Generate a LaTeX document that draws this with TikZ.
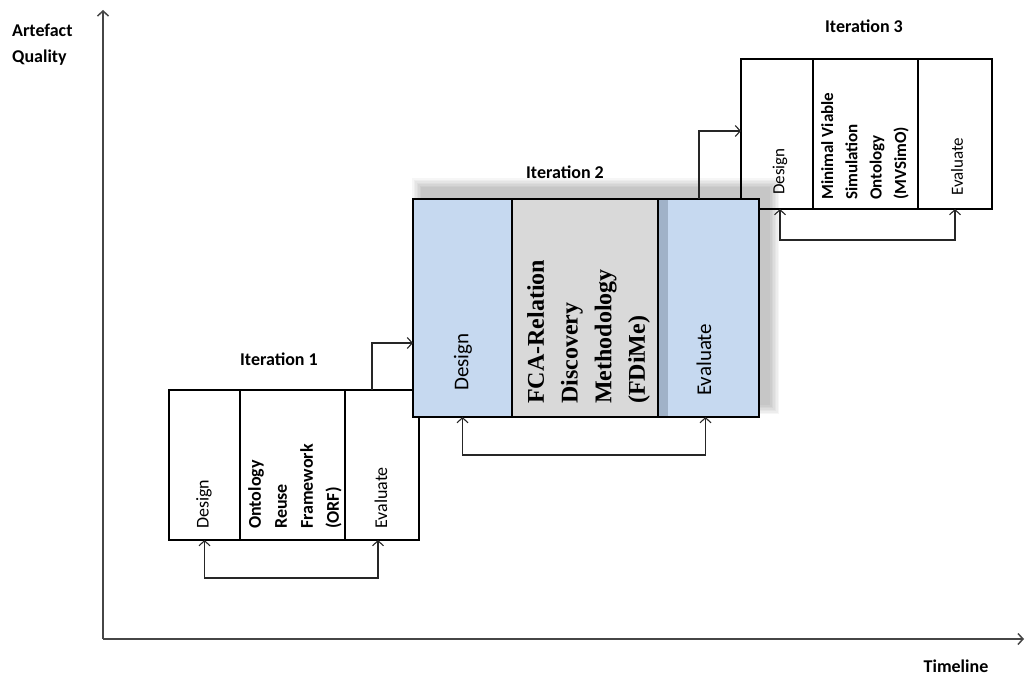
\documentclass[tikz,border=0pt]{standalone}
\usepackage{fontspec}
\setmainfont{Carlito}
\newfontfamily\fcafont{Liberation Serif}
\usetikzlibrary{arrows.meta,calc}
\definecolor{cellblue}{RGB}{198,217,240}
\definecolor{cellgray}{RGB}{217,217,217}
\definecolor{stripc}{RGB}{160,178,200}
\definecolor{axisc}{RGB}{70,70,70}
\begin{document}
\begin{tikzpicture}[x=1pt,y=-1pt,
  >={Straight Barb[length=5pt,width=11pt]},
  cell/.style={draw=black,line width=2.4pt,anchor=north west,inner sep=0pt,outer sep=0pt},
  lbl/.style={rotate=90,anchor=west,inner sep=0pt},
  mid/.style={rotate=90,anchor=north west,inner sep=0pt,align=left},
  conn/.style={line width=1.1pt,draw=black!85},
  axis/.style={line width=1.5pt,draw=axisc},
  title/.style={anchor=base,inner sep=0pt,font=\bfseries\fontsize{18}{22}\selectfont}]
\useasboundingbox (0,0) rectangle (1025,677);

% axes
\coordinate (o) at (103,639);
\coordinate (ytop) at (103,10);
\coordinate (xend) at (1024,639);
\draw[axis,->] (o) -- (ytop);
\draw[axis,->] (o) -- (xend);
\node[anchor=base west,inner sep=0pt,font=\bfseries\fontsize{18}{22}\selectfont] (yl1) at (12,37) {Artefact};
\node[anchor=base west,inner sep=0pt,font=\bfseries\fontsize{18}{22}\selectfont] (yl2) at (12,63) {Quality};
\node[title] (xl) at (956,672) {Timeline};

% iteration 3
\node[cell,minimum width=72pt,minimum height=150pt] (d3) at (741,59) {};
\node[cell,minimum width=105pt,minimum height=150pt] (m3) at (813,59) {};
\node[cell,minimum width=74pt,minimum height=150pt] (e3) at (918,59) {};
\node[title] (t3) at (864,33) {Iteration 3};
\node[lbl,font=\fontsize{17}{20}\selectfont] (ld3) at (780,195) {Design};
\node[mid,font=\bfseries\fontsize{17}{24.3}\selectfont] (lm3) at (821,200) {Minimal Viable\\Simulation\\Ontology\\(MVSimO)};
\node[lbl,font=\fontsize{17}{20}\selectfont] (le3) at (957,196) {Evaluate};

% iteration 1
\node[cell,minimum width=71pt,minimum height=150pt] (d1) at (169,390) {};
\node[cell,minimum width=105pt,minimum height=150pt] (m1) at (240,390) {};
\node[cell,minimum width=74pt,minimum height=150pt] (e1) at (345,390) {};
\node[title] (t1) at (279,365) {Iteration 1};
\node[lbl,font=\fontsize{18}{22}\selectfont] (ld1) at (204,529) {Design};
\node[mid,font=\bfseries\fontsize{18}{26}\selectfont] (lm1) at (248,529) {Ontology\\Reuse\\Framework\\(ORF)};
\node[lbl,font=\fontsize{18}{22}\selectfont] (le1) at (381,529) {Evaluate};

% soft shadow of iteration 2
\foreach \k in {0,...,6} {
  \fill[black,opacity=0.035] ({412+1.5*\k},{178+1.5*\k}) rectangle ({779-1.5*\k},{414-1.5*\k});
}

% iteration 2
\node[cell,fill=cellblue,minimum width=99pt,minimum height=218pt] (d2) at (413,199) {};
\node[cell,fill=cellgray,minimum width=146pt,minimum height=218pt] (m2) at (512,199) {};
\node[cell,fill=cellblue,minimum width=101pt,minimum height=218pt] (e2) at (658,199) {};
\fill[stripc] (659.2,200.2) rectangle (667.5,415.8);
\draw[line width=2.4pt] (e2.north west) -- (e2.south west);
\node[title] (t2) at (565,178) {Iteration 2};
\node[lbl,font=\fontsize{21}{25}\selectfont] (ld2) at (463,391) {Design};
\node[mid,font=\fcafont\bfseries\fontsize{24}{33.7}\selectfont] (lm2) at (527,404) {FCA-Relation\\Discovery\\Methodology\\(FDiMe)};
\node[lbl,font=\fontsize{21}{25}\selectfont] (le2) at (704,396) {Evaluate};

% feedback loops
\coordinate (f1) at (0,578);
\coordinate (f2) at (0,455);
\coordinate (f3) at (0,240);
\coordinate (e1a) at ($(e1.south)+(-4,0)$);
\coordinate (e2a) at ($(e2.south)+(-3,0)$);
\coordinate (d3a) at ($(d3.south)+(3,0)$);
\draw[conn,<->] (d1.south) -- (d1.south |- f1) -| (e1a);
\draw[conn,<->] (d2.south) -- (d2.south |- f2) -| (e2a);
\draw[conn,<->] (d3a) -- (d3a |- f3) -| (e3.south);

% progression arrows
\coordinate (s12) at ($(e1.north west)+(27,0)$);
\coordinate (y12) at (0,343);
\coordinate (s23) at ($(e2.north west)+(41,0)$);
\coordinate (y23) at (0,131);
\draw[conn,->] (s12) |- (d2.west |- y12);
\draw[conn,->] (s23) |- (d3.west |- y23);
\end{tikzpicture}
\end{document}
